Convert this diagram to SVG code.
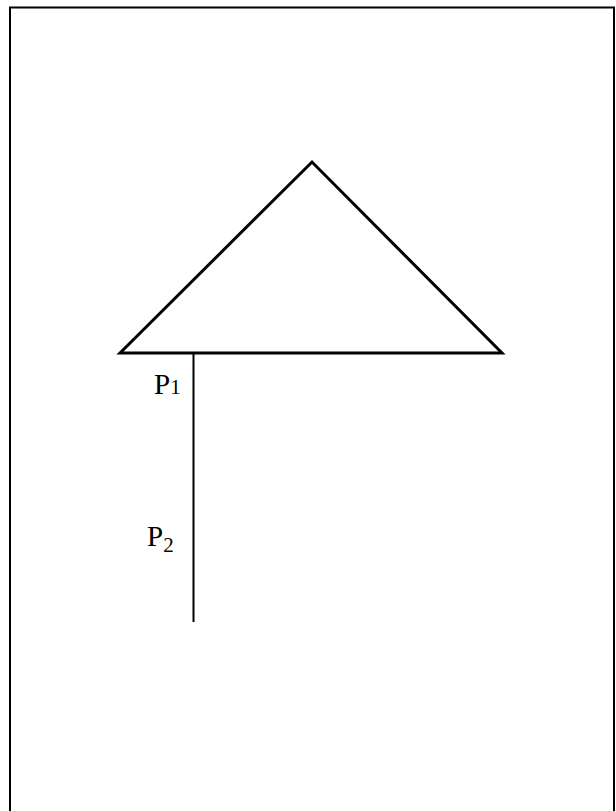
<svg xmlns="http://www.w3.org/2000/svg" width="616" height="811" viewBox="0 0 616 811">
<style>
.frame{fill:none;stroke:#000;stroke-width:2}
.tri{fill:none;stroke:#000;stroke-width:3;stroke-linejoin:miter}
.ln{stroke:#000;stroke-width:2;fill:none}
.lbl{font-family:'Liberation Serif', 'Times New Roman', serif;font-size:29px;fill:#000}
.sub{font-size:21px}
</style>
<rect width="616" height="811" fill="#fff"/>
<rect class="frame" x="10" y="7.5" width="604" height="820"/>
<g id="triangle">
<polygon class="tri" points="120,353 312,162 502,353"/>
</g>
<g id="connectors">
<line class="ln" x1="193.5" y1="353" x2="193.5" y2="622"/>
</g>
<g id="p1">
<text class="lbl" x="154" y="394">P<tspan class="sub">1</tspan></text>
</g>
<g id="p2">
<text class="lbl" x="147" y="546">P<tspan class="sub" dy="6">2</tspan></text>
</g>
</svg>
